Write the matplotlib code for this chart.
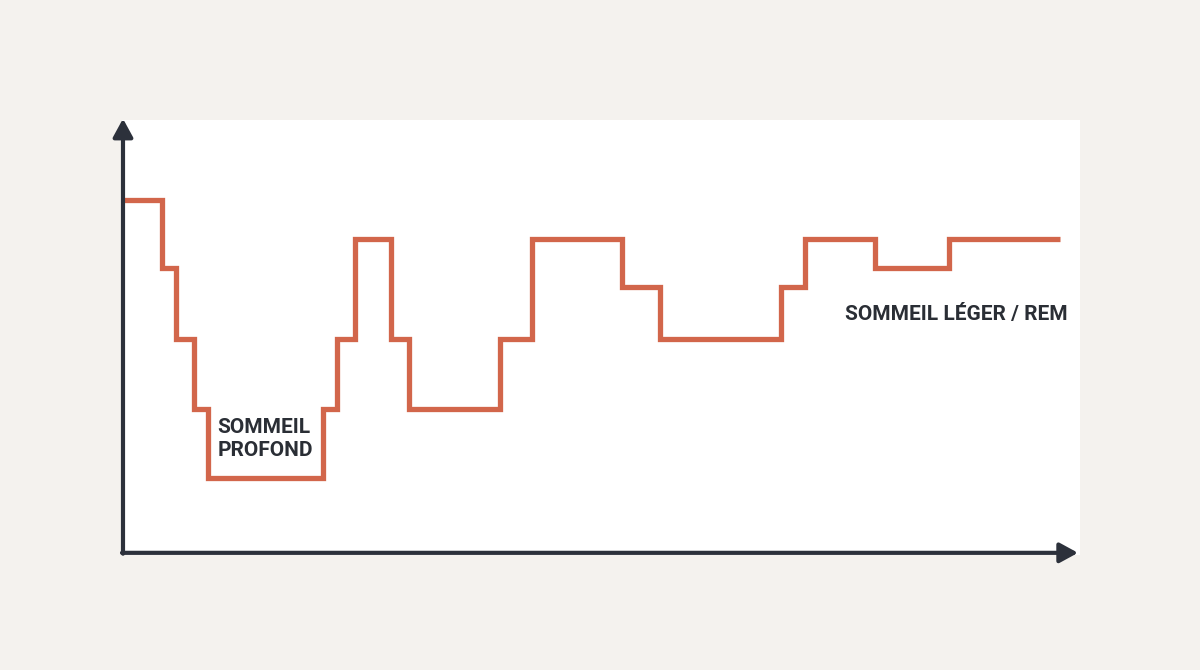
import matplotlib
matplotlib.use("Agg")
import matplotlib.pyplot as plt
import numpy as np

# step boundaries (minutes since sleep onset) and depth level per segment
edges = [0, 20, 27, 36, 43, 101, 108, 117, 135, 144, 190, 206, 251, 270, 331, 343, 378, 415, 471]
level = [81.5, 65.8, 49.4, 33.3, 17.3, 33.3, 49.4, 72.5, 49.4, 33.3, 49.4, 72.5, 61.4, 49.4, 61.4, 72.5, 65.8, 72.5]

label_deep = "SOMMEIL\nPROFOND"
label_light = "SOMMEIL LÉGER / REM"

BG = "#f4f2ee"
LINE = "#d2664b"
AXIS = "#2c313b"
TEXT = "#2a2e35"

plt.rcParams["font.family"] = ["Roboto", "DejaVu Sans"]

fig = plt.figure(figsize=(12, 6.7), dpi=100, facecolor=BG)
ax = fig.add_axes([122 / 1200, 115 / 670, 958 / 1200, 435 / 670])
ax.set_facecolor("white")
for s in ax.spines.values():
    s.set_visible(False)
ax.set_xticks([])
ax.set_yticks([])

px = 958 / 481.0   # px per minute
ax.set_xlim(0, 481)
ax.set_ylim(-0.5, 100)

ax.plot(edges, level + [level[-1]], drawstyle="steps-post", color=LINE,
        lw=3.8, solid_joinstyle="miter", solid_capstyle="butt", zorder=3)

# axes with arrow heads
arrow = dict(arrowstyle="-|>,head_length=0.55,head_width=0.3", color=AXIS,
             lw=3, shrinkA=0, shrinkB=0, mutation_scale=20)
ax.annotate("", xy=(0.5, 100.3), xytext=(0.5, -0.2), arrowprops=arrow,
            annotation_clip=False, zorder=4)
ax.annotate("", xy=(480, 0), xytext=(0, 0), arrowprops=arrow,
            annotation_clip=False, zorder=4)

ax.text(48, 17.3 + 4.2, label_deep, ha="left", va="bottom", fontsize=15,
        fontweight="bold", color=TEXT, linespacing=1.22, zorder=5)
ax.text(475, 53.8, label_light, ha="right", va="baseline", fontsize=15,
        fontweight="bold", color=TEXT, zorder=5)

fig.savefig("out.png", dpi=100, facecolor=BG)
